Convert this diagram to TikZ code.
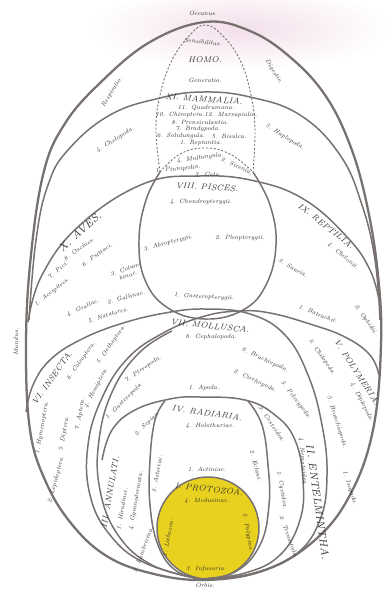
\documentclass[tikz,border=0pt]{standalone}
\usepackage{fontspec}
\usepackage{tikz}

\definecolor{linegray}{HTML}{77716F}
\definecolor{inkgray}{HTML}{332F2F}
\definecolor{protoyellow}{HTML}{E9D21F}
\definecolor{haze}{HTML}{F3DFEA}

\newcommand{\tinyit}{\fontsize{3.5}{3.9}\selectfont\itshape}
\newcommand{\clsit}{\fontsize{4.7}{5.2}\selectfont\itshape}
\newcommand{\bigit}{\fontsize{6}{6.5}\selectfont\itshape}

\begin{document}
\begin{tikzpicture}[
    x=0.02cm, y=-0.02cm,
    egg/.style={draw=linegray, line width=0.85pt},
    shell/.style={draw=linegray, line width=1.3pt},
    homoline/.style={draw=linegray, line width=0.5pt, dash pattern=on 1.2pt off 1pt},
    lbl/.style={font=\tinyit, text=inkgray, inner sep=0pt},
    cls/.style={font=\clsit, text=inkgray, inner sep=0pt},
    bigcls/.style={font=\bigit, text=inkgray, inner sep=0pt}
]
\useasboundingbox (0,0) rectangle (386,589);
\shade[inner color=haze, outer color=white] (240,28) ellipse[x radius=150, y radius=42];

% Protozoa
\filldraw[fill=protoyellow, egg] (208,528) circle[radius=51];

% outer egg and the big arcs
\draw[shell] plot[smooth cycle, tension=0.65] coordinates {(205,22) (250,31) (290,57) (325,95) (350,145) (367,205) (378,275) (381,345) (373,430) (350,495) (315,540) (265,570) (205,580) (150,573) (105,555) (70,522) (45,480) (30,430) (26,350) (30,265) (43,175) (64,125) (100,83) (150,42)};
\draw[egg] plot[smooth, tension=0.7] coordinates {(29,320) (36,240) (48,185) (68,150) (110,115) (160,98) (203,92) (250,97) (300,115) (340,155) (362,205) (375,260) (380,320)};
\draw[egg] plot[smooth, tension=0.7] coordinates {(28,322) (42,275) (80,225) (143,184) (200,176) (255,181) (305,200) (348,238) (370,270) (379,300)};

% Homo and Pisces
\draw[homoline] plot[smooth, tension=0.7] coordinates {(160,172) (156,130) (160,95) (172,60) (190,35) (205,25) (222,35) (240,60) (251,95) (255,130) (253,172)};
\draw[homoline] plot[smooth, tension=0.7] coordinates {(160,172) (180,154) (205,148) (230,154) (253,172)};
\draw[egg] plot[smooth, tension=0.7] coordinates {(160,172) (146,200) (139,240) (145,280) (168,308) (205,319) (243,310) (266,285) (276,245) (270,205) (253,172)};

% lower eggs, all meeting at the bottom
\draw[egg] plot[smooth, tension=0.7] coordinates {(26,412) (33,385) (50,360) (80,340) (120,324) (165,313) (205,309) (250,314) (285,335) (308,375) (322,425) (327,475) (320,520) (295,555) (250,574) (200,579)};
\draw[egg] plot[smooth, tension=0.7] coordinates {(379,375) (370,355) (345,337) (310,324) (270,313) (240,311) (205,316) (165,332) (128,358) (102,398) (88,445) (90,495) (110,535) (145,563) (200,579)};
\draw[egg] plot[smooth, tension=0.7] coordinates {(172,331) (140,352) (113,390) (99,440) (100,490) (118,535) (152,565) (200,579)};
\draw[egg] plot[smooth, tension=0.7] coordinates {(102,460) (112,430) (135,410) (170,399) (200,397) (245,400) (275,415) (295,440) (303,480) (300,520) (280,555) (245,573) (200,579)};
\draw[egg] plot[smooth, tension=0.7] coordinates {(165,401) (155,420) (150,460) (150,505) (158,545) (175,570) (200,579)};
\draw[egg] plot[smooth, tension=0.7] coordinates {(248,401) (262,425) (268,465) (269,505) (260,545) (235,572) (200,579)};

% outer names
\node[lbl] (oceanus) at (203,13) {Oceanus.};
\node[lbl] (sensib) at (203,42) [rotate=-6] {Sensibilitas.};
\node[cls] (homo) at (205,60) {HOMO.};
\node[lbl] (generat) at (205,80) {Generatio.};
\node[lbl] (respir) at (112,92) [rotate=58] {Respiratio.};
\node[lbl] (digest) at (274,72) [rotate=-58] {Digestio.};
\node[lbl] (mundus) at (16,342) [rotate=90] {Mundus.};
\node[lbl] (orbis) at (205,585) {Orbis.};

% mammalia
\node[cls] (mamm) at (204,99) [rotate=-4] {XI. MAMMALIA.};
\node[lbl] (quadr) at (206,108) {11. Quadrumana.};
\node[lbl] (chirop) at (180,115) {10. Chiroptera.};
\node[lbl] (marsup) at (231,115) {12. Marsupialia.};
\node[lbl] (prens) at (200,122) {8. Prensiculantia.};
\node[lbl] (bradyp) at (198,129) {7. Bradypoda.};
\node[lbl] (solid) at (181,136) {6. Solidungula.};
\node[lbl] (bisulc) at (229,136) {5. Bisulca.};
\node[lbl] (reptan) at (201,143) {1. Reptantia.};
\node[lbl] (multun) at (200,158) [rotate=8] {4. Multungula.};
\node[lbl] (pinnip) at (178,169) [rotate=6] {1. Pinnipedia.};
\node[lbl] (cete) at (208,174) {3. Cete.};
\node[lbl] (siren) at (237,166) [rotate=-25] {2. Sirenia.};
\node[lbl] (chelop) at (115,140) [rotate=32] {4. Chelopoda.};
\node[lbl] (haplop) at (285,137) [rotate=-32] {5. Haplopoda.};

% pisces
\node[cls] (pisces) at (207,187) [rotate=-3] {VIII. PISCES.};
\node[lbl] (chondr) at (201,202) {4. Chondropterygii.};
\node[lbl] (abropt) at (168,243) [rotate=15] {3. Abropterygii.};
\node[lbl] (pleopt) at (240,238) {2. Pleopterygii.};
\node[lbl] (gastpt) at (204,297) [rotate=-3] {1. Gasteropterygii.};

% aves
\node[bigcls] (aves) at (80,232) [rotate=42] {X. AVES.};
\node[lbl] (oscin) at (79,249) [rotate=35] {8. Oscines.};
\node[lbl] (pici) at (58,270) [rotate=40] {7. Pici.};
\node[lbl] (psitt) at (97,255) [rotate=35] {6. Psittaci.};
\node[lbl, align=center] (columb) at (127,272) [rotate=20] {3. Colum-\\binae.};
\node[lbl] (accip) at (52,292) [rotate=38] {1. Accipitres.};
\node[lbl] (grall) at (83,308) [rotate=25] {4. Grallae.};
\node[lbl] (gallin) at (126,297) [rotate=15] {2. Gallinae.};
\node[lbl] (natat) at (108,315) [rotate=18] {5. Natatores.};

% reptilia
\node[cls] (reptil) at (326,226) [rotate=-38] {IX. REPTILIA.};
\node[lbl] (chelon) at (343,256) [rotate=-40] {4. Chelonii.};
\node[lbl] (sauria) at (293,268) [rotate=-30] {3. Sauria.};
\node[lbl] (batrac) at (318,314) [rotate=-22] {1. Batrachii.};
\node[lbl] (ophid) at (366,320) [rotate=-55] {2. Ophidii.};

% insecta
\node[cls] (insecta) at (52,378) [rotate=55] {VI. INSECTA.};
\node[lbl] (coleop) at (81,361) [rotate=55] {6. Coleoptera.};
\node[lbl] (orthop) at (111,345) [rotate=55] {5. Orthoptera.};
\node[lbl] (hemipt) at (96,388) [rotate=62] {4. Hemiptera.};
\node[lbl] (hymen) at (42,428) [rotate=80] {1. Hymenoptera.};
\node[lbl] (diptera) at (64,434) [rotate=80] {3. Diptera.};
\node[lbl] (lepid) at (56,480) [rotate=75] {2. Lepidoptera.};
\node[lbl] (aptera) at (80,414) [rotate=80] {7. Aptera.};

% mollusca
\node[cls] (mollus) at (210,326) [rotate=-6] {VII. MOLLUSCA.};
\node[lbl] (cephal) at (211,337) {8. Cephalopoda.};
\node[lbl] (brachi) at (265,360) [rotate=-25] {6. Brachiopoda.};
\node[lbl] (cirrho) at (255,381) [rotate=-25] {2. Cirrhopoda.};
\node[lbl] (pelecy) at (296,400) [rotate=-52] {3. Pelecypoda.};
\node[lbl] (pterop) at (143,369) [rotate=35] {7. Pteropoda.};
\node[lbl] (gaster) at (124,401) [rotate=45] {1. Gasteropoda.};
\node[lbl] (sepiae) at (147,424) [rotate=45] {2. Sepiae.};
\node[lbl] (apoda) at (204,388) {1. Apoda.};

% polymeria
\node[cls] (polym) at (357,372) [rotate=-57] {V. POLYMERIA.};
\node[lbl] (chilop) at (322,357) [rotate=-55] {3. Chilopoda.};
\node[lbl] (diplop) at (362,402) [rotate=-62] {4. Diplopoda.};
\node[lbl] (branch) at (337,422) [rotate=-72] {5. Branchiopoda.};
\node[lbl] (isopod) at (350,488) [rotate=-72] {1. Isopoda.};

% radiaria
\node[cls] (radiar) at (207,413) [rotate=-8] {IV. RADIARIA.};
\node[lbl] (holoth) at (210,426) {4. Holothuriae.};
\node[lbl] (echini) at (256,466) [rotate=-75] {2. Echini.};
\node[lbl] (asteri) at (157,474) [rotate=80] {3. Asteriae.};
\node[lbl] (actin) at (207,469) {1. Actiniae.};

% entelmintha
\node[bigcls] (entel) at (318,502) [rotate=-82] {II. ENTELMINTHA.};
\node[lbl] (nemat) at (303,462) [rotate=-85] {4. Nematoidea.};
\node[lbl] (cystid) at (282,490) [rotate=-80] {1. Cystidea.};
\node[lbl] (tremat) at (289,537) [rotate=-70] {2. Trematoda.};
\node[lbl] (cestoi) at (272,424) [rotate=-55] {3. Cestoidea.};

% annulati
\node[cls] (annul) at (110,492) [rotate=80] {III. ANNULATI.};
\node[lbl] (hirud) at (122,509) [rotate=80] {1. Hirudinei.};
\node[lbl] (gymnod) at (136,501) [rotate=80] {4. Gymnodermata.};
\node[lbl] (lumbr) at (143,550) [rotate=70] {3. Lumbricina.};

% protozoa
\node[cls] (proto) at (209,489) [rotate=-6] {I. PROTOZOA.};
\node[lbl] (medus) at (207,501) {4. Medusinae.};
\node[lbl] (polyp) at (248,533) [rotate=-80] {2. Polypina.};
\node[lbl] (infus) at (206,569) {3. Infusoria.};
\node[lbl] (litho) at (168,538) [rotate=80] {1. Lithozoa.};
\end{tikzpicture}
\end{document}
